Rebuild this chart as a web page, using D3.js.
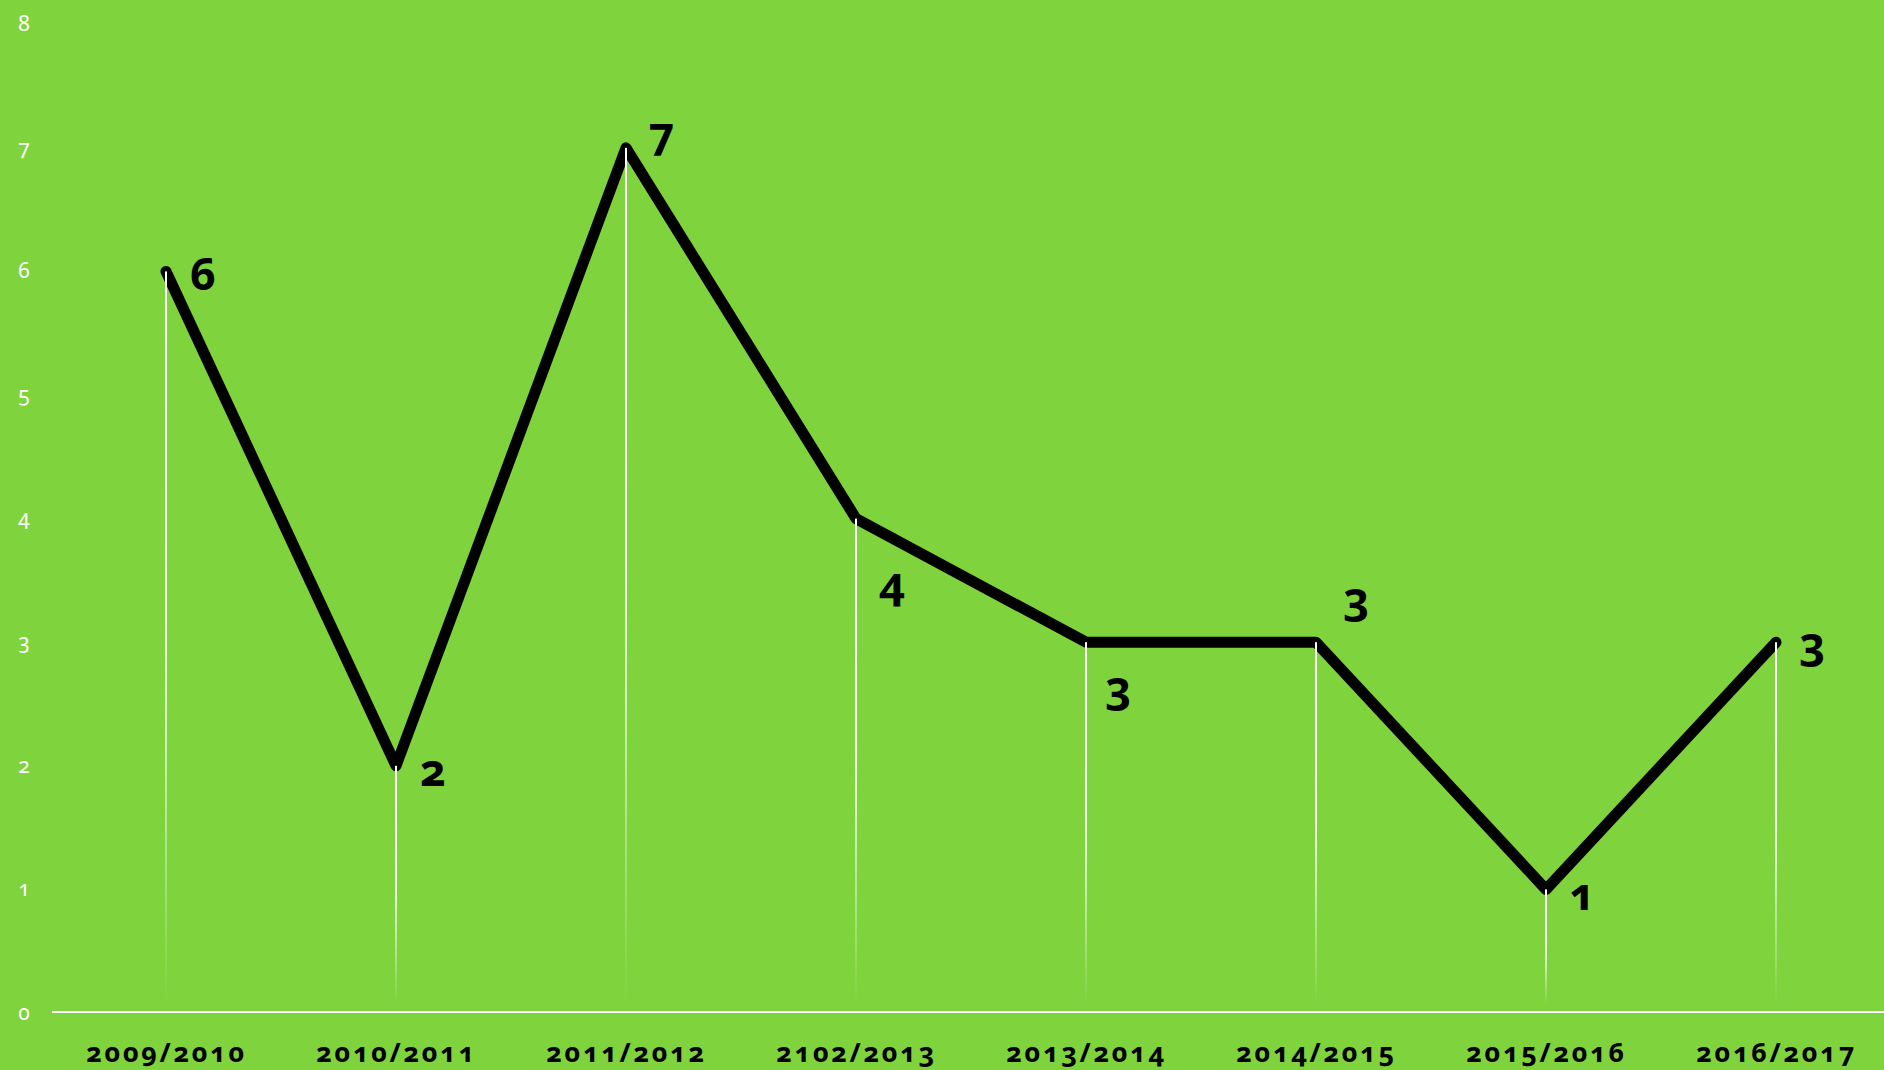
<!DOCTYPE html>
<html>
<head>
<meta charset="utf-8">
<script src="https://cdn.jsdelivr.net/npm/d3@7"></script>
<style>
  html, body { margin: 0; padding: 0; background: #7fd33d; overflow: hidden; }
  svg { display: block; }
  text { font-family: "Noto Sans", "Open Sans", sans-serif; font-feature-settings: "onum" 1; font-variant-numeric: oldstyle-nums; }
</style>
</head>
<body>
<svg id="chart" width="1884" height="1070"></svg>
<script>
// ---- data ----
const categories = ["2009/2010", "2010/2011", "2011/2012", "2102/2013", "2013/2014", "2014/2015", "2015/2016", "2016/2017"];
const values = [6, 2, 7, 4, 3, 3, 1, 3];
const yTicks = [0, 1, 2, 3, 4, 5, 6, 7, 8];
// label placement relative to each point (baseline offset), layout only
const labelDx = [24, 24, 22, 23, 19, 27, 23, 23];
const labelDy = [19, 20, 1, 80, 62, -27, 21, 18];

// ---- layout ----
const W = 1884, H = 1070;
const svg = d3.select("#chart");
svg.append("rect").attr("width", W).attr("height", H).attr("fill", "#7fd33d");

const x = d3.scalePoint().domain(categories).range([166, 1776]).padding(0);
const y = d3.scaleLinear().domain([0, 8]).range([1013, 24.2]);

// gradient for drop lines
const defs = svg.append("defs");
const grad = defs.append("linearGradient")
  .attr("id", "dropGrad").attr("x1", 0).attr("y1", 0).attr("x2", 0).attr("y2", 1);
grad.append("stop").attr("offset", "0%").attr("stop-color", "#fff").attr("stop-opacity", 1);
grad.append("stop").attr("offset", "50%").attr("stop-color", "#fff").attr("stop-opacity", 0.9);
grad.append("stop").attr("offset", "100%").attr("stop-color", "#fff").attr("stop-opacity", 0);

// y axis labels (no line)
const yAxis = d3.axisLeft(y).tickValues(yTicks).tickSize(0).tickPadding(0).tickFormat(d3.format("d"));
const gy = svg.append("g").attr("transform", "translate(24,0)").call(yAxis);
gy.select(".domain").remove();
gy.selectAll("text")
  .attr("fill", "#fff")
  .attr("font-size", 21)
  .attr("font-weight", 400)
  .attr("text-anchor", "middle")
  .attr("dy", "0.3em")
  .attr("x", 0);

// x axis baseline
const xAxis = d3.axisBottom(x).tickSize(0).tickPadding(0);
const gx = svg.append("g").attr("transform", `translate(0,${y(0)})`).call(xAxis);
gx.select(".domain").remove();
gx.append("line")
  .attr("x1", 52).attr("x2", W).attr("y1", -1).attr("y2", -1)
  .attr("stroke", "#fff").attr("stroke-width", 2);
gx.selectAll(".tick text")
  .attr("fill", "#000")
  .attr("font-size", 27)
  .attr("font-weight", 700)
  .attr("letter-spacing", "2.6px")
  .attr("y", 49)
  .attr("dy", 0);

// line
const line = d3.line().x((d, i) => x(categories[i])).y(d => y(d));
svg.append("path")
  .datum(values)
  .attr("d", line)
  .attr("fill", "none")
  .attr("stroke", "#000")
  .attr("stroke-width", 11)
  .attr("stroke-linejoin", "round")
  .attr("stroke-linecap", "round");

// drop lines
svg.append("g").selectAll("rect")
  .data(values)
  .join("rect")
  .attr("x", (d, i) => x(categories[i]) - 1)
  .attr("y", d => y(d))
  .attr("width", 2)
  .attr("height", d => y(0) - 8 - y(d))
  .attr("fill", "url(#dropGrad)");

// value labels
svg.append("g").selectAll("text")
  .data(values)
  .join("text")
  .attr("x", (d, i) => x(categories[i]) + labelDx[i])
  .attr("y", (d, i) => y(d) + labelDy[i])
  .attr("font-size", 45)
  .attr("font-weight", 700)
  .attr("fill", "#000")
  .text(d => d);
</script>
</body>
</html>
